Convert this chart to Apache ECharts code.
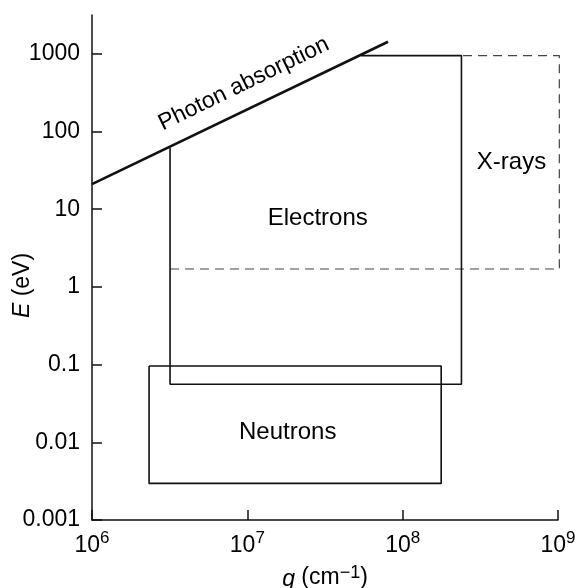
<!DOCTYPE html>
<html><head><meta charset="utf-8">
<script src="https://cdn.jsdelivr.net/npm/echarts@6/dist/echarts.min.js"></script>
<style>html,body{margin:0;padding:0;background:#fff}#c{width:577px;height:588px}</style>
</head><body><div id="c"></div>
<script>
// ---- data ----
const photonLine = [[1e6, 21], [8.05e7, 1430]];
const electrons = [[3.18e6, 62], [3.18e6, 0.056], [2.39e8, 0.056], [2.39e8, 950], [5.4e7, 950]];
const xrays = [[3.18e6, 1.7], [1.02e9, 1.7], [1.02e9, 950], [2.39e8, 950]];
const neutrons = [[2.33e6, 0.096], [1.77e8, 0.096], [1.77e8, 0.00296], [2.33e6, 0.00296], [2.33e6, 0.096]];
const yTicks = [0.001, 0.01, 0.1, 1, 10, 100, 1000];
const yTickLabels = ['0.001', '0.01', '0.1', '1', '10', '100', '1000'];
const xTicks = [1e6, 1e7, 1e8, 1e9];
const xTickExp = ['6', '7', '8', '9'];
const regionNames = ['Photon absorption', 'Electrons', 'X-rays', 'Neutrons'];
const regionAnchors = [[9.5e6, 410], [2.84e7, 7.7], [5.02e8, 40.5], [1.82e7, 0.0136]];

const FONT = '"Liberation Sans", Arial, Helvetica, sans-serif';
const INK = '#000';

const chart = echarts.init(document.getElementById('c'), null, {renderer: 'canvas'});

function lineSeries(data, opts) {
  return Object.assign({
    type: 'line', data: data, symbol: 'none', silent: true, clip: false,
    animation: false,
    lineStyle: {color: '#111', width: 1.6}
  }, opts || {});
}

const option = {
  animation: false,
  backgroundColor: '#fff',
  grid: {left: 92, right: 19, top: 15, bottom: 68, containLabel: false, outerBoundsMode: 'none'},
  xAxis: {
    type: 'log', logBase: 10, min: 1e6, max: 1e9,
    axisLine: {show: true, lineStyle: {color: '#111', width: 1.5}},
    axisTick: {show: true, inside: true, length: 10, customValues: xTicks, lineStyle: {color: '#111', width: 1.5}},
    splitLine: {show: false},
    minorTick: {show: false},
    axisLabel: {
      customValues: xTicks,
      margin: 10,
      color: INK,
      formatter: function (v) {
        const i = xTicks.findIndex(t => Math.abs(Math.log10(t) - Math.log10(v)) < 1e-6);
        return '{n|10}{s|' + (i >= 0 ? xTickExp[i] : '') + '}';
      },
      rich: {
        n: {fontFamily: FONT, fontSize: 23, color: INK, verticalAlign: 'bottom'},
        s: {fontFamily: FONT, fontSize: 17, color: INK, verticalAlign: 'bottom', padding: [0, 0, 10, 0]}
      }
    },
    name: '{i|q} (cm{s|\u22121})',
    nameLocation: 'middle',
    nameGap: 44,
    nameMoveOverlap: false,
    nameTextStyle: {
      rich: {
        i: {fontFamily: FONT, fontSize: 23, fontStyle: 'italic', color: INK, verticalAlign: 'bottom'},
        s: {fontFamily: FONT, fontSize: 18, color: INK, verticalAlign: 'bottom', padding: [0, 0, 9, 0]}
      },
      fontFamily: FONT, fontSize: 23, color: INK
    }
  },
  yAxis: {
    type: 'log', logBase: 10, min: 0.001, max: 3162.2776,
    axisLine: {show: true, lineStyle: {color: '#111', width: 1.5}},
    axisTick: {show: true, inside: true, length: 10, customValues: yTicks, lineStyle: {color: '#111', width: 1.5}},
    splitLine: {show: false},
    minorTick: {show: false},
    axisLabel: {
      customValues: yTicks,
      margin: 12,
      color: INK,
      fontFamily: FONT,
      fontSize: 23,
      formatter: function (v) {
        const i = yTicks.findIndex(t => Math.abs(Math.log10(t) - Math.log10(v)) < 1e-6);
        return i >= 0 ? yTickLabels[i] : '';
      }
    },
    name: '{i|E} (eV)',
    nameLocation: 'middle',
    nameRotate: 90,
    nameGap: 58,
    nameMoveOverlap: false,
    nameTextStyle: {
      fontFamily: FONT, fontSize: 23, color: INK,
      padding: [0, 36, 0, 0],
      rich: {
        i: {fontFamily: FONT, fontSize: 23, fontStyle: 'italic', color: INK}
      }
    }
  },
  series: [
    lineSeries(neutrons),
    lineSeries(xrays, {lineStyle: {color: '#444', width: 1.2, type: [9, 6]}}),
    lineSeries(electrons),
    lineSeries(photonLine, {lineStyle: {color: '#111', width: 2.6}}),
    {
      type: 'scatter', silent: true, symbolSize: 0,
      itemStyle: {opacity: 1},
      data: regionAnchors.map((p, i) => ({
        value: p,
        label: {
          show: true, position: 'inside', formatter: regionNames[i],
          rotate: i === 0 ? 26 : 0,
          fontFamily: FONT, fontSize: i === 0 ? 23 : 24, color: INK, opacity: 1
        }
      }))
    }
  ]
};
chart.setOption(option);
</script>
</body></html>
